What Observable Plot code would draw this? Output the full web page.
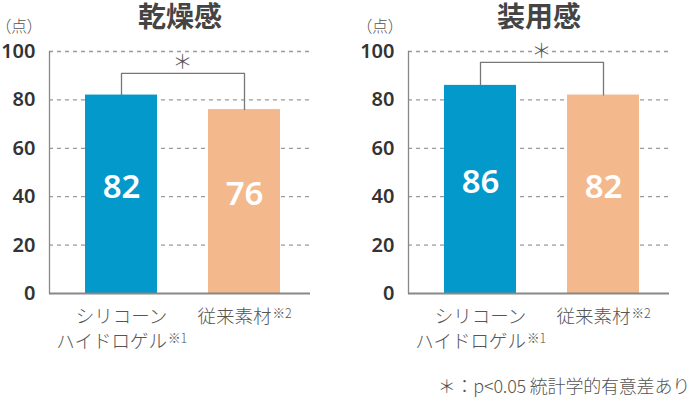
<!DOCTYPE html>
<html><head><meta charset="utf-8">
<script src="https://cdn.jsdelivr.net/npm/d3@7"></script>
<script src="https://cdn.jsdelivr.net/npm/@observablehq/plot@0.6"></script>
<style>
body{margin:0;background:#fff;}
#wrap{position:relative;width:690px;height:397px;overflow:hidden;font-family:"Noto Sans CJK JP","Noto Sans",sans-serif;background:#fff;}
.panel{position:absolute;top:0;}
.title{position:absolute;top:0;line-height:30px;font-size:28px;font-weight:700;color:#444;transform:translateX(-50%);white-space:nowrap;}
.unit{position:absolute;top:16px;line-height:18px;font-size:16px;font-weight:300;color:#555;white-space:nowrap;font-feature-settings:"palt";}
.foot{position:absolute;right:0;top:375px;line-height:20px;font-size:18px;font-weight:300;color:#555;white-space:nowrap;letter-spacing:-0.2px;}
</style></head><body><div id="wrap"></div>
<script>
const titles = ["乾燥感", "装用感"];
const categories = ["シリコーンハイドロゲル", "従来素材"];
const categoryLabels = [["シリコーン", "ハイドロゲル"], ["従来素材"]];
const categoryNotes = ["※1", "※2"];
const valuesDry = [82, 76];
const valuesWear = [86, 82];
const yTicks = [0, 20, 40, 60, 80, 100];
const bracketLevels = [91, 95.5];
const unitLabel = "（点）";
const sigMark = "＊";
const footnote = "＊：p<0.05 統計学的有意差あり";
const barColors = ["#0399cb", "#f3b98d"];

const panels = [
  {title: titles[0], values: valuesDry, bracket: bracketLevels[0], left: 0},
  {title: titles[1], values: valuesWear, bracket: bracketLevels[1], left: 359}
];

const wrap = document.getElementById("wrap");
const numFont = "'Noto Sans', sans-serif";
const jpFont = "'Noto Sans CJK JP', sans-serif";
const labelFs = 18.5, noteFs = 12.5;

for (const p of panels) {
  const data = categories.map((c, i) => ({cat: c, value: p.values[i]}));
  const br = [
    {cat: categories[0], v: p.values[0]},
    {cat: categories[0], v: p.bracket},
    {cat: categories[1], v: p.bracket},
    {cat: categories[1], v: p.values[1]}
  ];
  const labelMarks = [];
  categories.forEach((c, i) => {
    const lines = categoryLabels[i];
    lines.forEach((t, j) => {
      const dy = 24 + 25 * j;
      if (j < lines.length - 1) {
        labelMarks.push(Plot.text([{cat: c, t}], {x: "cat", y: () => 0, text: "t", dy, fontSize: labelFs, fontWeight: 300, fill: "#555", fontFamily: jpFont}));
      } else {
        const noteW = 20;
        const w = t.length * labelFs + noteW;
        const dx = w / 2 - noteW;
        labelMarks.push(Plot.text([{cat: c, t}], {x: "cat", y: () => 0, text: "t", dy, dx, textAnchor: "end", fontSize: labelFs, fontWeight: 300, fill: "#555", fontFamily: jpFont}));
        labelMarks.push(Plot.text([{cat: c, t: categoryNotes[i]}], {x: "cat", y: () => 0, text: "t", dy: dy - 4, dx: dx + 1, textAnchor: "start", fontSize: noteFs, fontWeight: 300, fill: "#555", fontFamily: jpFont}));
      }
    });
  });

  const chart = Plot.plot({
    width: 331, height: 397,
    marginLeft: 49, marginRight: 21, marginTop: 51, marginBottom: 104,
    style: {background: "transparent", overflow: "visible"},
    x: {domain: categories, axis: null, paddingInner: 0.415, paddingOuter: 0.268, align: 0.55},
    y: {domain: [0, 100], axis: null},
    color: {domain: categories, range: barColors},
    marks: [
      Plot.ruleY(yTicks.filter(d => d > 0), {stroke: "#9a9a9a", strokeWidth: 1.3, strokeDasharray: "4,4"}),
      Plot.barY(data, {x: "cat", y: "value", fill: "cat"}),
      Plot.line(br, {x: "cat", y: "v", stroke: "#777", strokeWidth: 1.3}),
      Plot.text([{cat: categories[0], t: sigMark}], {x: "cat", y: () => p.bracket, text: "t", dx: 61, dy: -11, fontSize: 20, fontWeight: 300, fill: "#555", fontFamily: jpFont, stroke: "white", strokeWidth: 3}),
      Plot.text(data, {x: "cat", y: d => d.value / 2, text: d => String(d.value), fill: "white", fontSize: 33, fontWeight: 600, fontFamily: numFont, dy: -7}),
      Plot.ruleY([0], {stroke: "#888", strokeWidth: 2}),
      Plot.frame({anchor: "left", stroke: "#888", strokeWidth: 1.3}),
      Plot.axisY(yTicks, {tickSize: 0, tickPadding: 14, fontSize: 20, fontWeight: 600, fill: "#333", fontFamily: numFont, label: null}),
      ...labelMarks
    ]
  });
  chart.classList.add("panel");
  chart.style.left = p.left + "px";
  wrap.appendChild(chart);

  const t = document.createElement("div");
  t.className = "title";
  t.textContent = p.title;
  t.style.left = (p.left + 180) + "px";
  wrap.appendChild(t);

  const u = document.createElement("div");
  u.className = "unit";
  u.textContent = unitLabel;
  u.style.left = (p.left === 0 ? 3 : p.left + 5) + "px";
  wrap.appendChild(u);
}
const f = document.createElement("div");
f.className = "foot";
f.textContent = footnote;
wrap.appendChild(f);
</script>
</body></html>
